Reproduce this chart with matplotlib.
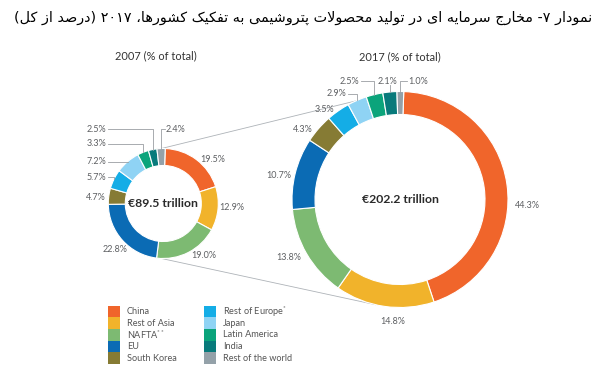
import re
import numpy as np
import matplotlib
matplotlib.use("Agg")
import matplotlib.pyplot as plt
from matplotlib.patches import Rectangle

plt.rcParams['font.family'] = ['Lato', 'DejaVu Sans']
plt.rcParams['mathtext.fontset'] = 'custom'
plt.rcParams['mathtext.rm'] = 'Lato'

W, H = 600, 386

# ---------------------------------------------------------------------------
# data
# ---------------------------------------------------------------------------
regions = ["China", "Rest of Asia", r"NAFTA$^{**}$", "EU", "South Korea",
           r"Rest of Europe$^{*}$", "Japan", "Latin America", "India",
           "Rest of the world"]
colors = ["#F0652B", "#F1B32B", "#7DBA72", "#0B6BB4", "#867B34",
          "#14ADE6", "#8FD3F4", "#0BA47B", "#087A7B", "#94A1A9"]
pct_2007 = [19.5, 12.9, 19.0, 22.8, 4.7, 5.7, 7.2, 3.3, 2.5, 2.4]
pct_2017 = [44.3, 14.8, 13.8, 10.7, 4.3, 3.5, 2.9, 2.5, 2.1, 1.0]
totals = ["€89.5 trillion", "€202.2 trillion"]
subtitles = ["2007 (% of total)", "2017 (% of total)"]
title = "نمودار ۷- مخارج سرمایه ای در تولید محصولات پتروشیمی به تفکیک کشورها، ۲۰۱۷ (درصد از کل)"

# ---------------------------------------------------------------------------
# minimal Persian shaping (matplotlib has no complex text layout)
# ---------------------------------------------------------------------------
FORMS = {  # isolated, final, initial, medial
    'ا': ('\ufe8d', '\ufe8e', None, None),
    'ب': ('\ufe8f', '\ufe90', '\ufe91', '\ufe92'),
    'پ': ('\ufb56', '\ufb57', '\ufb58', '\ufb59'),
    'ت': ('\ufe95', '\ufe96', '\ufe97', '\ufe98'),
    'ج': ('\ufe9d', '\ufe9e', '\ufe9f', '\ufea0'),
    'ح': ('\ufea1', '\ufea2', '\ufea3', '\ufea4'),
    'خ': ('\ufea5', '\ufea6', '\ufea7', '\ufea8'),
    'د': ('\ufea9', '\ufeaa', None, None),
    'ر': ('\ufead', '\ufeae', None, None),
    'ز': ('\ufeaf', '\ufeb0', None, None),
    'س': ('\ufeb1', '\ufeb2', '\ufeb3', '\ufeb4'),
    'ش': ('\ufeb5', '\ufeb6', '\ufeb7', '\ufeb8'),
    'ص': ('\ufeb9', '\ufeba', '\ufebb', '\ufebc'),
    'ف': ('\ufed1', '\ufed2', '\ufed3', '\ufed4'),
    'ک': ('\ufb8e', '\ufb8f', '\ufb90', '\ufb91'),
    'ل': ('\ufedd', '\ufede', '\ufedf', '\ufee0'),
    'م': ('\ufee1', '\ufee2', '\ufee3', '\ufee4'),
    'ن': ('\ufee5', '\ufee6', '\ufee7', '\ufee8'),
    'ه': ('\ufee9', '\ufeea', '\ufeeb', '\ufeec'),
    'و': ('\ufeed', '\ufeee', None, None),
    'ی': ('\ufbfc', '\ufbfd', '\ufbfe', '\ufbff'),
}


def shape(text):
    out = []
    i = 0
    n = len(text)
    while i < n:
        ch = text[i]
        if ch not in FORMS:
            out.append(ch)
            i += 1
            continue
        prev = text[i - 1] if i > 0 else ''
        join_prev = prev in FORMS and FORMS[prev][2] is not None
        if ch == 'ل' and i + 1 < n and text[i + 1] == 'ا':
            out.append('\ufefc' if join_prev else '\ufefb')
            i += 2
            continue
        nxt = text[i + 1] if i + 1 < n else ''
        iso, fin, ini, med = FORMS[ch]
        join_next = nxt in FORMS and ini is not None
        if join_prev and join_next:
            out.append(med)
        elif join_prev:
            out.append(fin)
        elif join_next:
            out.append(ini)
        else:
            out.append(iso)
        i += 1
    return ''.join(out)


def rtl(text):
    s = shape(text)[::-1]
    s = re.sub('[۰-۹0-9]+', lambda m: m.group(0)[::-1], s)
    return s.translate(str.maketrans('()', ')('))


# ---------------------------------------------------------------------------
# layout (pixel coords, y down)
# ---------------------------------------------------------------------------
donuts = [
    dict(cx=163.3, cy=203.5, r=55, w=17, vals=pct_2007,
         labels=[(200, 159, 'left'), (219, 208, 'left'), (191, 255, 'left'),
                 (127, 250, 'right'), (106, 198, 'right'), (106, 177, 'right'),
                 (106, 162, 'right'), (106, 144, 'right'), (106, 129, 'right'),
                 (166, 129, 'left')],
         leaders=[None, None, None, None, None,
                  'elbow', 'elbow', 'elbow', 'elbow', 'elbow'],
         sub=(156, 56)),
    dict(cx=400, cy=199.5, r=108, w=23, vals=pct_2017,
         labels=[(515, 206, 'left'), (393, 321, 'center'), (301, 257, 'right'),
                 (291, 176, 'right'), (313, 130, 'right'), (334, 110, 'right'),
                 (346, 94, 'right'), (359, 81, 'right'), (387, 81, 'center'),
                 (408, 81, 'left')],
         leaders=[None] * 6 + ['elbow', 'elbow', 'vertical', 'elbow'],
         sub=(400, 57)),
]
legend_cols = [108, 204]   # left edge of swatch column
legend_top = 305.5
legend_row = 11.7
legend_rows = 5

LBL = "#5E6063"
LINE = "#9A9EA2"

fig = plt.figure(figsize=(W / 100, H / 100), dpi=100)
ax = fig.add_axes([0, 0, 1, 1])


def Y(y):
    return H - y


for k, d in enumerate(donuts):
    wedges, _ = ax.pie(d['vals'], radius=d['r'], center=(d['cx'], Y(d['cy'])),
                       startangle=88, counterclock=False, colors=colors,
                       wedgeprops=dict(width=d['w'], edgecolor='white',
                                       linewidth=0.8))
    cx, cy, r = d['cx'], Y(d['cy']), d['r']
    for w, v, (lx, ly, ha), lead in zip(wedges, d['vals'], d['labels'], d['leaders']):
        ax.text(lx, Y(ly), f"{v:.1f}%", ha=ha, va='center', fontsize=6.5,
                color=LBL)
        if lead is None:
            continue
        t = np.radians((w.theta1 + w.theta2) / 2)
        px, py = cx + r * np.cos(t), cy + r * np.sin(t)
        if lead == 'vertical':
            ax.plot([px, px], [py, Y(ly) - 4], color=LINE, lw=0.6)
        else:
            ex = lx + 1.5 if ha == 'right' else lx - 1.5
            ax.plot([ex, px, px], [Y(ly), Y(ly), py], color=LINE, lw=0.6)
    ax.text(cx, cy, totals[k], ha='center', va='center', fontsize=8.8,
            fontweight='bold', color='#2B2B2B')
    ax.text(d['sub'][0], Y(d['sub'][1]), subtitles[k], ha='center',
            va='center', fontsize=7.9, color='#333333')

# connector lines between the two rings
d1, d2 = donuts
for a1, a2 in [(358, 336), (182, 193)]:
    p1 = (d1['cx'] + d1['r'] * np.sin(np.radians(a1)),
          Y(d1['cy']) + d1['r'] * np.cos(np.radians(a1)))
    p2 = (d2['cx'] + d2['r'] * np.sin(np.radians(a2)),
          Y(d2['cy']) + d2['r'] * np.cos(np.radians(a2)))
    ax.plot([p1[0], p2[0]], [p1[1], p2[1]], color="#AEB3B8", lw=0.6, zorder=0)

# legend: two columns of stacked swatches
for i, (c, lab) in enumerate(zip(colors, regions)):
    x0 = legend_cols[i // legend_rows]
    y0 = legend_top + (i % legend_rows) * legend_row
    ax.add_patch(Rectangle((x0, Y(y0 + legend_row)), 12, legend_row,
                           facecolor=c, edgecolor='none'))
    ax.text(x0 + 19, Y(y0 + legend_row / 2), lab, ha='left', va='center',
            fontsize=6.6, color='#555555')

ax.text(592, Y(18), rtl(title), ha='right', va='center', fontsize=10.4,
        family='DejaVu Sans', color='black')

ax.set_xlim(0, W)
ax.set_ylim(0, H)
ax.set_aspect('equal')
ax.axis('off')

fig.savefig("out.png", dpi=100)
